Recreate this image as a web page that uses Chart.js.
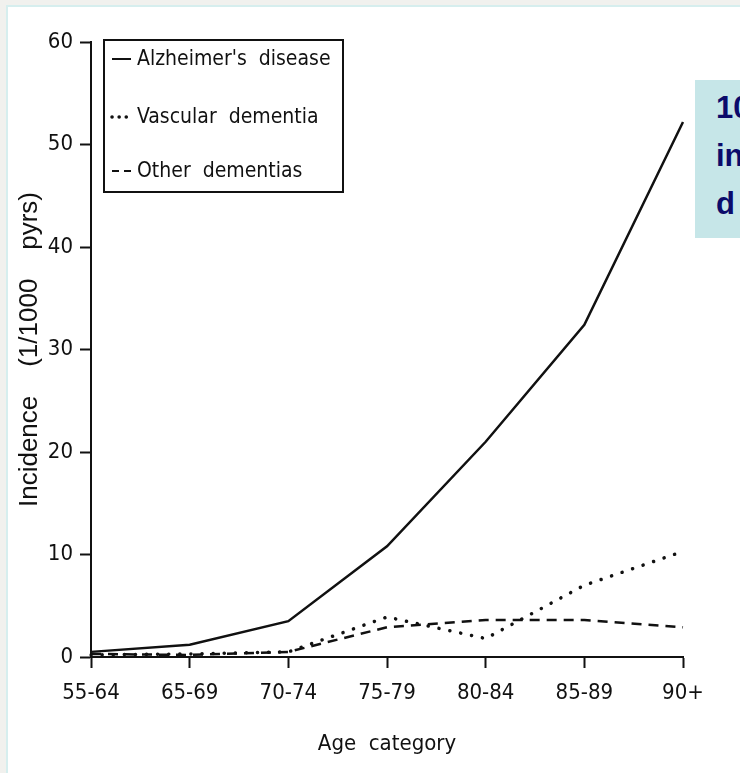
<!DOCTYPE html>
<html>
<head>
<meta charset="utf-8">
<script src="https://cdn.jsdelivr.net/npm/chart.js@4"></script>
<style>
  html, body { margin: 0; padding: 0; background: #f1f1ee; }
  #page { position: relative; width: 740px; height: 773px; overflow: hidden; }
  #frame {
    position: absolute; left: 6px; top: 5px; right: 0; bottom: 0;
    background: #fff;
    border-top: 2px solid #d6eeee; border-left: 2px solid #d6eeee;
  }
  #chartBox { position: absolute; left: 0; top: 0; width: 740px; height: 773px; }
  #note {
    position: absolute; left: 695px; top: 80px; width: 45px; height: 158px;
    background: #c6e6e8; overflow: hidden; white-space: nowrap;
    font-family: "Liberation Sans", Arial, sans-serif; font-weight: bold;
    font-size: 31px; line-height: 48px; color: #0b0b6b;
    padding: 4px 0 0 21px; box-sizing: border-box;
  }
</style>
</head>
<body>
<div id="page">
  <div id="frame"></div>
  <div id="chartBox"><canvas id="incidenceChart"></canvas></div>
  <div id="note">10<br>in<br>d</div>
</div>
<script>
const ageCategories = ['55-64', '65-69', '70-74', '75-79', '80-84', '85-89', '90+'];
const alzheimers = [0.5, 1.2, 3.5, 10.8, 21.0, 32.4, 52.2];
const vascular = [0.2, 0.3, 0.5, 3.9, 1.8, 7.0, 10.3];
const otherDementias = [0.3, 0.2, 0.5, 2.9, 3.6, 3.6, 2.9];
const yTicks = [0, 10, 20, 30, 40, 50, 60];

const narrow = '"Liberation Sans Narrow", "DejaVu Sans Condensed", Arial, sans-serif';
const ink = '#111';

// legend drawn inside the plot, boxed like the original figure
const boxedLegend = {
  id: 'boxedLegend',
  afterDraw(chart) {
    const ctx = chart.ctx;
    const area = chart.chartArea;
    const x = area.left + 13, y = area.top - 2, w = 239, h = 152;
    ctx.save();
    ctx.strokeStyle = ink;
    ctx.lineWidth = 2;
    ctx.strokeRect(x, y, w, h);
    ctx.font = '21px ' + narrow;
    ctx.fillStyle = ink;
    ctx.textBaseline = 'middle';
    const rows = [19, 77, 131];
    chart.data.datasets.forEach((ds, i) => {
      const ly = y + rows[i];
      ctx.beginPath();
      ctx.setLineDash(i === 1 ? [0.1, 7] : (i === 2 ? [7, 5] : []));
      ctx.lineCap = i === 1 ? 'round' : 'butt';
      ctx.lineWidth = i === 1 ? 3.5 : 2;
      ctx.moveTo(x + 8, ly);
      ctx.lineTo(x + 27, ly);
      ctx.stroke();
      ctx.setLineDash([]);
      ctx.fillText(ds.label.replace(' ', '  '), x + 33, ly + 1);
    });
    ctx.restore();
  }
};

new Chart(document.querySelector('#incidenceChart'), {
  type: 'line',
  data: {
    labels: ageCategories,
    datasets: [{
      label: "Alzheimer's disease",
      data: alzheimers,
      borderColor: ink,
      borderWidth: 2.5,
      pointRadius: 0,
      tension: 0
    }, {
      label: 'Vascular dementia',
      data: vascular,
      borderColor: ink,
      borderWidth: 3.5,
      borderDash: [0.1, 11],
      borderCapStyle: 'round',
      pointRadius: 0,
      tension: 0
    }, {
      label: 'Other dementias',
      data: otherDementias,
      borderColor: ink,
      borderWidth: 2.5,
      borderDash: [10, 7],
      pointRadius: 0,
      tension: 0
    }]
  },
  options: {
    responsive: true,
    maintainAspectRatio: false,
    animation: false,
    layout: { padding: { left: 0, top: 42, right: 57, bottom: 0 } },
    plugins: {
      legend: { display: false },
      tooltip: { enabled: false }
    },
    scales: {
      x: {
        offset: false,
        grid: { drawOnChartArea: false, tickLength: 11, tickColor: ink, tickWidth: 2 },
        border: { display: true, color: ink, width: 2 },
        ticks: { color: ink, padding: 12, maxRotation: 0, font: { family: narrow, size: 22 } },
        title: {
          display: true, text: 'Age  category', color: ink,
          font: { family: narrow, size: 22 }, padding: { top: 0, bottom: 16 }
        },
        afterFit: (scale) => { scale.height = 116; }
      },
      y: {
        min: 0,
        max: 60,
        afterBuildTicks: (scale) => { scale.ticks = yTicks.map(v => ({ value: v })); },
        grid: { drawOnChartArea: false, tickLength: 11, tickColor: ink, tickWidth: 2 },
        border: { display: true, color: ink, width: 2 },
        ticks: { color: ink, padding: 7, font: { family: narrow, size: 22 } },
        title: {
          display: true, text: 'Incidence    (1/1000    pyrs)', color: ink,
          font: { family: '"Liberation Sans", Arial, sans-serif', size: 26 },
          padding: { top: 14, bottom: 0 }
        },
        afterFit: (scale) => { scale.width = 91; }
      }
    }
  },
  plugins: [boxedLegend]
});
</script>
</body>
</html>
